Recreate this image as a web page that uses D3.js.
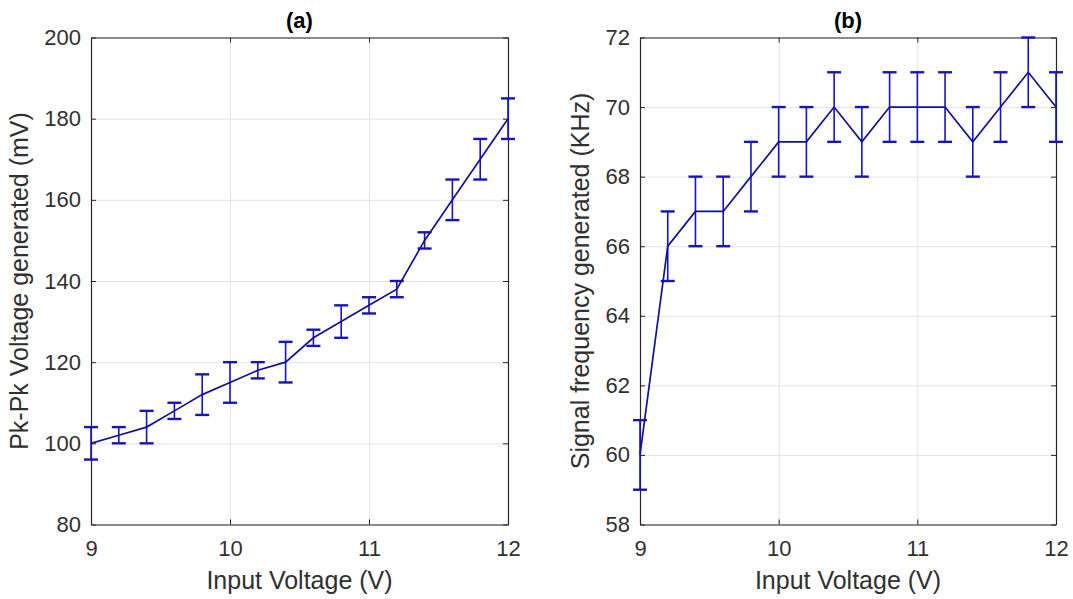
<!DOCTYPE html>
<html>
<head>
<meta charset="utf-8">
<script src="https://cdn.jsdelivr.net/npm/d3@7/dist/d3.min.js"></script>
<style>
  html, body { margin: 0; padding: 0; background: #fff; }
  svg { display: block; }
  text { font-family: "Liberation Sans", Arial, Helvetica, sans-serif; }
</style>
</head>
<body>
<svg id="chart" width="1073" height="599"></svg>
<script>
// ---- Data ----
const inputVoltage = [9, 9.2, 9.4, 9.6, 9.8, 10, 10.2, 10.4, 10.6, 10.8, 11, 11.2, 11.4, 11.6, 11.8, 12];
const pkPkVoltage  = [100, 102, 104, 108, 112, 115, 118, 120, 126, 130, 134, 138, 150, 160, 170, 180];
const pkPkError    = [4, 2, 4, 2, 5, 5, 2, 5, 2, 4, 2, 2, 2, 5, 5, 5];
const frequency    = [60, 66, 67, 67, 68, 69, 69, 70, 69, 70, 70, 70, 69, 70, 71, 70];
const freqError    = [1, 1, 1, 1, 1, 1, 1, 1, 1, 1, 1, 1, 1, 1, 1, 1];

const xTicks      = [9, 10, 11, 12];
const yTicksLeft  = [80, 100, 120, 140, 160, 180, 200];
const yTicksRight = [58, 60, 62, 64, 66, 68, 70, 72];

const panels = [
  { title: "(a)", ylabel: "Pk-Pk Voltage generated (mV)", x0: 91, x1: 508, labelX: 28,
    yDomain: [80, 200], yTicks: yTicksLeft, values: pkPkVoltage, errors: pkPkError },
  { title: "(b)", ylabel: "Signal frequency generated (KHz)", x0: 640, x1: 1056, labelX: 589,
    yDomain: [58, 72], yTicks: yTicksRight, values: frequency, errors: freqError }
];

const svg = d3.select("#chart");
const plotTop = 37.5, plotBottom = 524.5;
const axisColor = "#262626";
const gridColor = "#e3e3e3";
const lineColor = "#10109e";
const barColor  = "#1414c0";

panels.forEach(p => {
  const x = d3.scaleLinear().domain([9, 12]).range([p.x0, p.x1]);
  const y = d3.scaleLinear().domain(p.yDomain).range([plotBottom, plotTop]);
  const g = svg.append("g");

  // grid
  g.append("g")
    .attr("transform", `translate(0,${plotBottom})`)
    .call(d3.axisBottom(x).tickValues(xTicks).tickSize(-(plotBottom - plotTop)).tickFormat(""))
    .call(s => s.select(".domain").remove())
    .call(s => s.selectAll("line").attr("stroke", gridColor).attr("stroke-width", 1));
  g.append("g")
    .attr("transform", `translate(${p.x0},0)`)
    .call(d3.axisLeft(y).tickValues(p.yTicks).tickSize(-(p.x1 - p.x0)).tickFormat(""))
    .call(s => s.select(".domain").remove())
    .call(s => s.selectAll("line").attr("stroke", gridColor).attr("stroke-width", 1));

  // box ticks (inward) on all sides
  const tl = 5;
  const styleAxis = s => {
    s.select(".domain").attr("stroke", axisColor).attr("stroke-width", 1.2);
    s.selectAll(".tick line").attr("stroke", axisColor).attr("stroke-width", 1);
    s.selectAll(".tick text").attr("fill", "#303030").style("font-size", "22px")
      .style("font-family", '"Liberation Sans", Arial, sans-serif');
  };
  g.append("g")
    .attr("transform", `translate(0,${plotBottom})`)
    .call(d3.axisBottom(x).tickValues(xTicks).tickSizeInner(-tl).tickSizeOuter(0).tickPadding(16).tickFormat(d3.format("d")))
    .call(styleAxis);
  g.append("g")
    .attr("transform", `translate(0,${plotTop})`)
    .call(d3.axisTop(x).tickValues(xTicks).tickSizeInner(-tl).tickSizeOuter(0).tickFormat(""))
    .call(styleAxis);
  g.append("g")
    .attr("transform", `translate(${p.x0},0)`)
    .call(d3.axisLeft(y).tickValues(p.yTicks).tickSizeInner(-tl).tickSizeOuter(0).tickPadding(10).tickFormat(d3.format("d")))
    .call(styleAxis);
  g.append("g")
    .attr("transform", `translate(${p.x1},0)`)
    .call(d3.axisRight(y).tickValues(p.yTicks).tickSizeInner(-tl).tickSizeOuter(0).tickFormat(""))
    .call(styleAxis);

  // error bars
  const data = inputVoltage.map((v, i) => ({ x: v, y: p.values[i], e: p.errors[i] }));
  const cap = 7;
  const eb = g.append("g").attr("stroke", barColor).attr("fill", "none");
  eb.selectAll("line.v").data(data).join("line").attr("class", "v")
    .attr("x1", d => x(d.x)).attr("x2", d => x(d.x))
    .attr("y1", d => y(d.y - d.e)).attr("y2", d => y(d.y + d.e))
    .attr("stroke-width", 1.6);
  eb.selectAll("line.ct").data(data).join("line").attr("class", "ct")
    .attr("x1", d => x(d.x) - cap).attr("x2", d => x(d.x) + cap)
    .attr("y1", d => y(d.y + d.e)).attr("y2", d => y(d.y + d.e))
    .attr("stroke-width", 2.4);
  eb.selectAll("line.cb").data(data).join("line").attr("class", "cb")
    .attr("x1", d => x(d.x) - cap).attr("x2", d => x(d.x) + cap)
    .attr("y1", d => y(d.y - d.e)).attr("y2", d => y(d.y - d.e))
    .attr("stroke-width", 2.4);

  // line
  g.append("path").datum(data)
    .attr("fill", "none").attr("stroke", lineColor).attr("stroke-width", 1.7)
    .attr("d", d3.line().x(d => x(d.x)).y(d => y(d.y)));

  // title
  g.append("text").attr("x", (p.x0 + p.x1) / 2).attr("y", 28)
    .attr("text-anchor", "middle").attr("font-weight", "bold")
    .style("font-size", "22px").attr("fill", "#000").text(p.title);

  // x label
  g.append("text").attr("x", (p.x0 + p.x1) / 2).attr("y", 589)
    .attr("text-anchor", "middle").style("font-size", "25px").attr("fill", "#303030")
    .text("Input Voltage (V)");

  // y label
  g.append("text")
    .attr("transform", `translate(${p.labelX},${(plotTop + plotBottom) / 2}) rotate(-90)`)
    .attr("text-anchor", "middle").style("font-size", "25px").attr("fill", "#303030")
    .text(p.ylabel);
});
</script>
</body>
</html>
